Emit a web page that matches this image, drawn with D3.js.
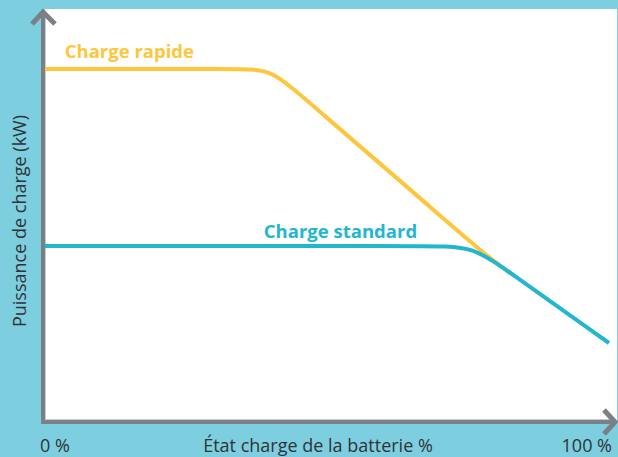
<!DOCTYPE html>
<html>
<head>
<meta charset="utf-8">
<script src="https://cdn.jsdelivr.net/npm/d3@7/dist/d3.min.js"></script>
<style>
html,body{margin:0;padding:0;background:#7dcfe0;}
svg{display:block;}
</style>
</head>
<body>
<svg id="chart" width="618" height="457"></svg>
<script>
// Data (x: state of charge %, y: charging power, relative units) — polyline vertices
const seriesNames = ["Charge rapide", "Charge standard"];
const rapidX = [0, 35.28, 39.98, 46.81, 70.04, 79.26, 83.33];
const rapidY = [85.6, 85.6, 85.6, 77.49, 49.88, 38.9, 35.07];
const standardX = [0, 68.62, 75.8, 82.89, 100];
const standardY = [42.44, 42.44, 42.44, 35.51, 18.78];
const xTickLabels = ["0 %", "100 %"];
const xTickValues = [0, 100];
const xTitle = "État charge de la batterie %";
const yTitle = "Puissance de charge (kW)";

const svg = d3.select("#chart");
const x = d3.scaleLinear().domain([0, 100]).range([45, 609]);
const y = d3.scaleLinear().domain([0, 100]).range([420, 10]);

const axisColor = "#7a8086";
const textColor = "#2f3337";
const rapidColor = "#fec63c";
const standardColor = "#22b6cf";

// white plot panel
svg.append("rect").attr("x", 45).attr("y", 9).attr("width", 572).attr("height", 411).attr("fill", "#ffffff");

// axes
svg.append("line").attr("x1", 43).attr("x2", 43).attr("y1", 13).attr("y2", 424)
  .attr("stroke", axisColor).attr("stroke-width", 4);
svg.append("line").attr("x1", 41).attr("x2", 614).attr("y1", 422).attr("y2", 422)
  .attr("stroke", axisColor).attr("stroke-width", 4);
svg.append("line").attr("x1", 45.5).attr("x2", 45.5).attr("y1", 13).attr("y2", 420)
  .attr("stroke", "#c9cdd0").attr("stroke-width", 1);
svg.append("line").attr("x1", 45).attr("x2", 612).attr("y1", 419.5).attr("y2", 419.5)
  .attr("stroke", "#c9cdd0").attr("stroke-width", 1);
svg.append("path").attr("d", "M32,24 L43,12 L55,24")
  .attr("fill", "none").attr("stroke", axisColor).attr("stroke-width", 5);
svg.append("path").attr("d", "M604,410 L615,422 L604,434")
  .attr("fill", "none").attr("stroke", axisColor).attr("stroke-width", 5);

// lines
const line = d3.line().x(d => x(d[0])).y(d => y(d[1])).curve(d3.curveBasis);
const rapid = rapidX.map((v, i) => [v, rapidY[i]]);
const standard = standardX.map((v, i) => [v, standardY[i]]);
svg.append("path").datum(rapid).attr("d", line)
  .attr("fill", "none").attr("stroke", rapidColor).attr("stroke-width", 4);
svg.append("path").datum(standard).attr("d", line)
  .attr("fill", "none").attr("stroke", standardColor).attr("stroke-width", 4);

// series labels
const font = "'Open Sans', sans-serif";
svg.append("text").text(seriesNames[0])
  .attr("x", x(3.5)).attr("y", y(rapidY[0]) - 11)
  .attr("font-family", font).attr("font-weight", 700).attr("font-size", 18.5)
  .attr("fill", rapidColor);
svg.append("text").text(seriesNames[1])
  .attr("x", x(38.8)).attr("y", y(standardY[0]) - 8)
  .attr("font-family", font).attr("font-weight", 700).attr("font-size", 18.5)
  .attr("fill", standardColor);

// x tick labels
svg.selectAll(".xt").data(xTickValues).enter().append("text")
  .attr("class", "xt")
  .attr("x", (d, i) => i === 0 ? x(d) - 5 : x(d) + 3)
  .attr("y", 452)
  .attr("text-anchor", (d, i) => i === 0 ? "start" : "end")
  .attr("font-family", font).attr("font-size", 18).attr("fill", textColor)
  .text((d, i) => xTickLabels[i]);

// axis titles
svg.append("text").text(xTitle)
  .attr("x", 318).attr("y", 452).attr("text-anchor", "middle")
  .attr("font-family", font).attr("font-size", 18).attr("fill", textColor);
svg.append("text").text(yTitle)
  .attr("transform", "translate(26,221) rotate(-90)").attr("text-anchor", "middle")
  .attr("font-family", font).attr("font-size", 18).attr("fill", textColor);
</script>
</body>
</html>
